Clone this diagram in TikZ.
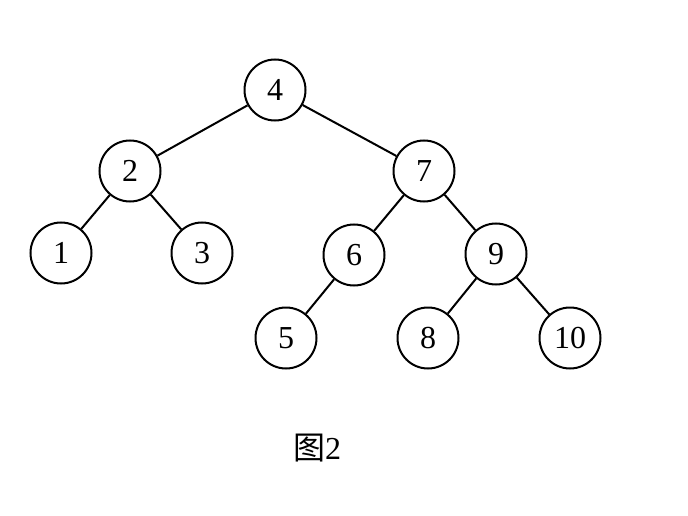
\documentclass[tikz,border=0pt]{standalone}
\usepackage{fontspec}
\setmainfont{Liberation Serif}
\newfontfamily\cjk{Noto Sans CJK SC}
\begin{document}
\begin{tikzpicture}[x=1pt,y=-1pt,
  tnode/.style={circle,draw,line width=2pt,minimum size=61pt,inner sep=0pt,font=\fontsize{32}{32}\selectfont},
  edge/.style={line width=2pt}]
\useasboundingbox (0,0) rectangle (688,516);
\node[tnode] (n4) at (275,90) {4};
\node[tnode] (n2) at (130,171) {2};
\node[tnode] (n7) at (424,171) {7};
\node[tnode] (n1) at (61,253) {1};
\node[tnode] (n3) at (202,253) {3};
\node[tnode] (n6) at (354,255) {6};
\node[tnode] (n9) at (496,254) {9};
\node[tnode] (n5) at (286,338) {5};
\node[tnode] (n8) at (428,338) {8};
\node[tnode] (n10) at (570,338) {10};
\draw[edge] (n4) -- (n2);
\draw[edge] (n4) -- (n7);
\draw[edge] (n2) -- (n1);
\draw[edge] (n2) -- (n3);
\draw[edge] (n7) -- (n6);
\draw[edge] (n7) -- (n9);
\draw[edge] (n6) -- (n5);
\draw[edge] (n9) -- (n8);
\draw[edge] (n9) -- (n10);
\node[font=\fontsize{32}{32}\selectfont] (cap) at (317,448) {{\cjk 图}2};
\end{tikzpicture}
\end{document}
